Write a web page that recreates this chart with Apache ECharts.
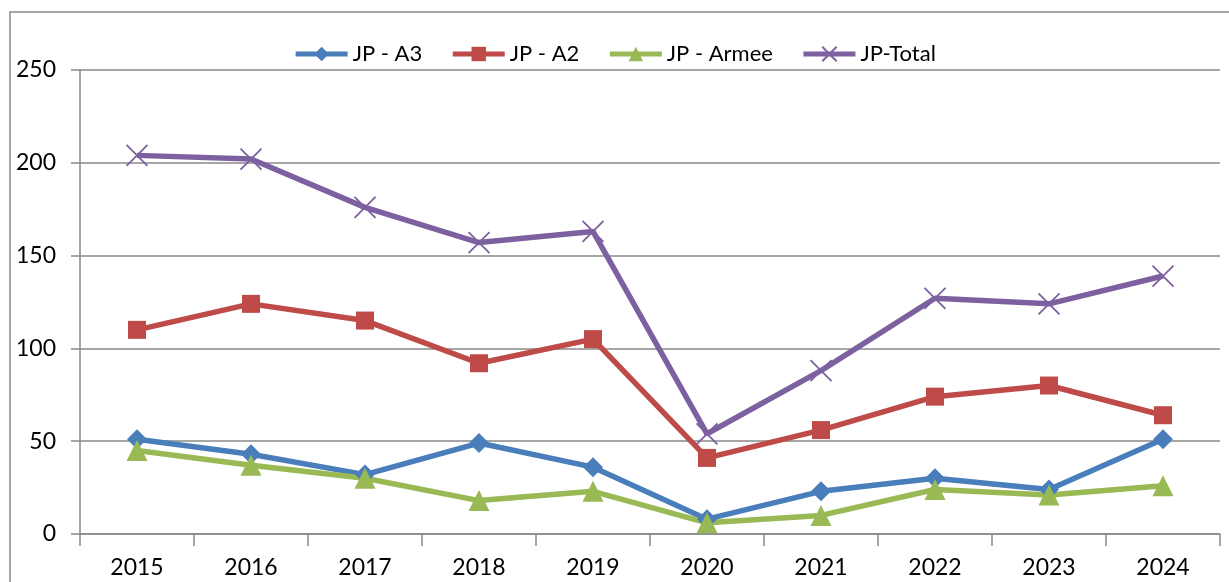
<!DOCTYPE html>
<html>
<head>
<meta charset="utf-8">
<script src="https://cdn.jsdelivr.net/npm/echarts@6/dist/echarts.min.js"></script>
<style>
  html, body { margin: 0; padding: 0; background: #fff; }
  #chart { width: 1229px; height: 582px; }
</style>
</head>
<body>
<div id="chart"></div>
<script>
// data
var years = ["2015", "2016", "2017", "2018", "2019", "2020", "2021", "2022", "2023", "2024"];
var jpA3 = [51, 43, 32, 49, 36, 8, 23, 30, 24, 51];
var jpA2 = [110, 124, 115, 92, 105, 41, 56, 74, 80, 64];
var jpArmee = [45, 37, 30, 18, 23, 6, 10, 24, 21, 26];
var jpTotal = [204, 202, 176, 157, 163, 54, 88, 127, 124, 139];

var chart = echarts.init(document.getElementById("chart"));
var font = "Lato, 'Open Sans', sans-serif";
var axisGrey = "#898989";

function lineSeries(name, data, color, symbol, size, extra) {
  var s = {
    name: name,
    type: "line",
    data: data,
    symbol: symbol,
    symbolSize: size,
    showAllSymbol: true,
    lineStyle: { color: color, width: 5.5 },
    itemStyle: { color: color },
    emphasis: { disabled: true }
  };
  if (extra) Object.assign(s.itemStyle, extra);
  return s;
}

chart.setOption({
  animation: false,
  textStyle: { fontFamily: font },
  graphic: [{
    type: "rect",
    shape: { x: 10, y: 12, width: 1240, height: 600 },
    style: { fill: "none", stroke: axisGrey, lineWidth: 1.5 },
    silent: true
  }],
  legend: {
    top: 38,
    left: "center",
    itemWidth: 52,
    itemHeight: 18,
    itemGap: 28,
    lineStyle: { width: 5 },
    textStyle: { fontSize: 22, color: "#000", fontFamily: font },
    data: ["JP - A3", "JP - A2", "JP - Armee", "JP-Total"]
  },
  grid: { left: 80, right: 9, top: 70, bottom: 48 },
  xAxis: {
    type: "category",
    data: years,
    boundaryGap: true,
    axisLine: { lineStyle: { color: axisGrey, width: 1.5 } },
    axisTick: { show: true, length: 12, lineStyle: { color: axisGrey, width: 1.5 } },
    axisLabel: { color: "#000", fontSize: 23, margin: 22, fontFamily: font },
    splitLine: { show: false }
  },
  yAxis: {
    type: "value",
    min: 0,
    max: 250,
    interval: 50,
    axisLine: { show: true, lineStyle: { color: axisGrey, width: 1.5 } },
    axisTick: { show: true, length: 9, lineStyle: { color: axisGrey, width: 1.5 } },
    axisLabel: { color: "#000", fontSize: 23, margin: 24, fontFamily: font },
    splitLine: { show: true, lineStyle: { color: axisGrey, width: 1.5 } }
  },
  series: [
    lineSeries("JP - A3", jpA3, "#4A7EBB", "diamond", 20),
    lineSeries("JP - A2", jpA2, "#BE4B48", "rect", 18),
    lineSeries("JP - Armee", jpArmee, "#98B954", "triangle", 21),
    lineSeries("JP-Total", jpTotal, "#7D60A0", "path://M0,0L10,10M10,0L0,10", 21,
      { borderColor: "#7D60A0", borderWidth: 1.8 })
  ]
});
</script>
</body>
</html>
